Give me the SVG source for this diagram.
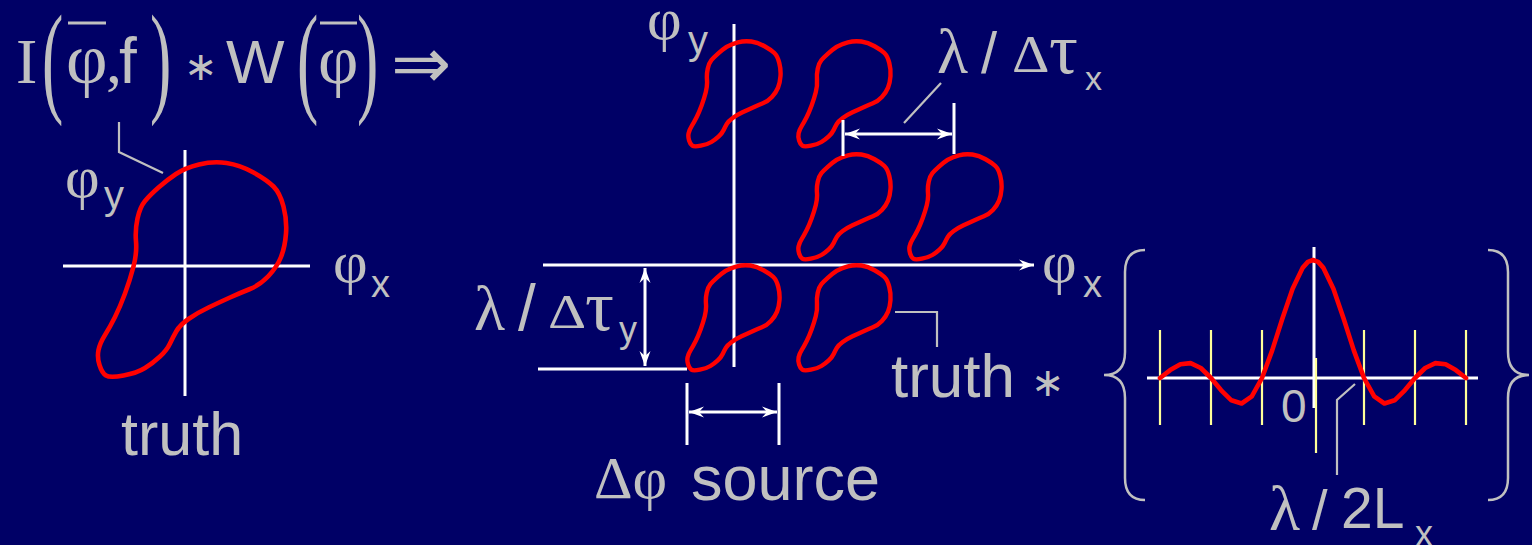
<svg xmlns="http://www.w3.org/2000/svg" xmlns:xlink="http://www.w3.org/1999/xlink" width="1532" height="545" viewBox="0 0 1532 545">
<style>
.serif{font-family:"Liberation Serif","Times New Roman",serif;fill:#C0C0C0}
.sans{font-family:"Liberation Sans",Arial,sans-serif;fill:#C0C0C0}
.sym{font-family:"DejaVu Sans",sans-serif;fill:#C0C0C0}
.ax{stroke:#FFFFFF;stroke-width:3;fill:none}
.lead{stroke:#C0C0C0;stroke-width:2.2;fill:none}
.blob{fill:none;stroke:#FF0000;stroke-linejoin:round}
.ytick{stroke:#FFFF99;stroke-width:2.2}
.brace{stroke:#C0C0C0;stroke-width:2.5;fill:none}
</style>
<defs>
<marker id="ah" viewBox="-16 -7 17 14" refX="0" refY="0" markerWidth="17" markerHeight="14" markerUnits="userSpaceOnUse" orient="auto-start-reverse">
<path d="M0,0 L-15,-5.5 L-10,0 L-15,5.5 Z" fill="#FFFFFF"/>
</marker>
<path id="blob" d="M-9,6 Q0,0 14,-3.5 Q28,-7 41.5,-5 Q55,-3 68.5,4.5 Q82,12 88.5,18.5 Q95,25 98.5,38.5 Q102,52 101,65.5 Q100,79 96,89 Q92,99 83.5,108 Q75,117 65,121 Q55,125 45,129.5 Q35,134 23.5,139.5 Q12,145 3.5,151 Q-5,157 -8.5,163 Q-12,169 -15,175.5 Q-18,182 -25,188.5 Q-32,195 -40,200 Q-48,205 -61.5,207.5 Q-75,210 -79,207.5 Q-83,205 -85.5,197 Q-88,189 -86.5,182 Q-85,175 -80,167 Q-75,159 -70,149 Q-65,139 -60,125.5 Q-55,112 -51.5,98.5 Q-48,85 -49,73.5 Q-50,62 -47.5,50.5 Q-45,39 -40,33 Q-35,27 -26.5,19.5 Q-18,12 -9,6 Z"/>
</defs>
<rect x="0" y="0" width="1532" height="545" fill="#000066"/>

<g id="formula">
<text class="serif" x="16" y="83" font-size="64">I</text>
<text class="serif" font-size="64" transform="translate(42,100) scale(1,1.92)">(</text>
<text class="serif" x="66" y="83" font-size="72">φ</text>
<line x1="68" y1="23" x2="106" y2="23" stroke="#C0C0C0" stroke-width="3"/>
<text class="serif" x="106" y="83" font-size="64">,</text>
<text class="sans" x="119" y="83" font-size="64">f</text>
<text class="serif" font-size="64" transform="translate(150,100) scale(1,1.92)">)</text>
<text class="sym" x="184" y="80" font-size="40">∗</text>
<text class="sans" x="226" y="83" font-size="62">W</text>
<text class="serif" font-size="64" transform="translate(297,100) scale(1,1.92)">(</text>
<text class="serif" x="318" y="83" font-size="70">φ</text>
<line x1="320" y1="23" x2="357" y2="23" stroke="#C0C0C0" stroke-width="3"/>
<text class="serif" font-size="64" transform="translate(357,100) scale(1,1.92)">)</text>
<text class="sym" x="391" y="88" font-size="72">⇒</text>
</g>

<g id="truth-plot">
<line class="ax" x1="63" y1="266" x2="310" y2="266"/>
<line class="ax" x1="185" y1="150" x2="185" y2="396"/>
<use href="#blob" class="blob" stroke-width="4.6" transform="translate(185,168)"/>
<text class="serif" x="65" y="197" font-size="60">φ</text>
<text class="sans" x="104" y="209" font-size="40">y</text>
<text class="serif" x="333" y="282" font-size="60">φ</text>
<text class="sans" x="371" y="297" font-size="38">x</text>
<text class="sans" x="121" y="455" font-size="61">truth</text>
</g>

<g id="sampled-plot">
<line class="ax" x1="734" y1="24" x2="734" y2="367"/>
<line class="ax" x1="543" y1="265" x2="1034" y2="265" marker-end="url(#ah)"/>
<line class="ax" x1="538" y1="369" x2="687" y2="369"/>
<g class="blob" stroke-width="9">
<use href="#blob" transform="translate(731,44) scale(0.49)"/>
<use href="#blob" transform="translate(841,44) scale(0.49)"/>
<use href="#blob" transform="translate(841,157) scale(0.49)"/>
<use href="#blob" transform="translate(952,157) scale(0.49)"/>
<use href="#blob" transform="translate(730,268) scale(0.49)"/>
<use href="#blob" transform="translate(841,268) scale(0.49)"/>
</g>
<text class="serif" x="647" y="39" font-size="60">φ</text>
<text class="sans" x="688" y="54" font-size="40">y</text>
<text class="serif" x="1042" y="282" font-size="60">φ</text>
<text class="sans" x="1083" y="297" font-size="38">x</text>
<text class="serif" x="937" y="73" font-size="64">λ</text>
<text class="sans" x="981" y="73" font-size="58">/</text>
<text class="serif" font-size="54" transform="translate(1012,72) scale(1.08,0.98)">Δ</text>
<text class="serif" x="1049" y="73" font-size="72">τ</text>
<text class="sans" x="1085" y="90" font-size="34">x</text>
<text class="serif" x="474" y="330" font-size="64">λ</text>
<text class="sans" x="518" y="330" font-size="64">/</text>
<text class="serif" font-size="54" transform="translate(548,328) scale(1.1,0.9)">Δ</text>
<text class="serif" x="585" y="330" font-size="72">τ</text>
<text class="sans" x="619" y="342" font-size="36">y</text>
<text class="sans" x="891" y="397" font-size="62">truth</text>
<text class="sym" x="1031" y="396" font-size="40">∗</text>
<text class="serif" x="594" y="498" font-size="60">Δφ</text>
<text class="sans" x="691" y="500" font-size="63">source</text>
</g>

<g id="psf-plot">
<path class="brace" d="M1145,250 Q1125,250 1125,272 L1125,352 Q1125,375 1104,375 Q1125,375 1125,398 L1125,478 Q1125,500 1145,500"/>
<path class="brace" d="M1488,250 Q1508,250 1508,272 L1508,352 Q1508,375 1529,375 Q1508,375 1508,398 L1508,478 Q1508,500 1488,500"/>
<line class="ax" x1="1147" y1="378" x2="1478" y2="378"/>
<line class="ax" x1="1314" y1="247" x2="1314" y2="408"/>
<g class="ytick">
<line x1="1160" y1="330" x2="1160" y2="425"/>
<line x1="1211" y1="330" x2="1211" y2="425"/>
<line x1="1262" y1="330" x2="1262" y2="425"/>
<line x1="1316" y1="358" x2="1316" y2="453"/>
<line x1="1364" y1="330" x2="1364" y2="425"/>
<line x1="1415" y1="330" x2="1415" y2="425"/>
<line x1="1466" y1="330" x2="1466" y2="425"/>
</g>
<polyline fill="none" stroke="#FF0000" stroke-width="4.6" stroke-linejoin="round" stroke-linecap="round" points="1160,378 1170.2,370.1 1180.4,364.3 1190.6,363.1 1200.8,368 1211,378 1221.2,390.3 1231.4,400.3 1241.6,403.5 1251.8,396.4 1262,378 1272.2,350.4 1282.4,318.5 1292.6,288.7 1302.8,267.6 1307.9,261.9 1313,260 1318.1,261.9 1323.2,267.6 1333.4,288.7 1343.6,318.5 1353.8,350.4 1364,378 1374.2,396.4 1384.4,403.5 1394.6,400.3 1404.8,390.3 1415,378 1425.2,368 1435.4,363.1 1445.6,364.3 1455.8,370.1 1466,378"/>
<text class="sans" x="1281" y="422" font-size="46">0</text>
<text class="serif" x="1269" y="530" font-size="64">λ</text>
<text class="sans" x="1312" y="529" font-size="56">/</text>
<text class="sans" x="1341" y="528" font-size="57">2L</text>
<text class="sans" x="1415" y="546" font-size="36">x</text>
</g>

<g id="connectors">
<polyline class="lead" points="119,122 119,152 163,173"/>
<line class="lead" x1="941" y1="83" x2="904" y2="123"/>
<polyline class="lead" points="895,312 937,312 937,347"/>
<polyline class="lead" points="1355,384 1337,400 1337,475"/>
<line class="ax" x1="843" y1="120" x2="843" y2="156"/>
<line class="ax" x1="954" y1="103" x2="954" y2="154"/>
<line class="ax" x1="845" y1="134" x2="952" y2="134" marker-start="url(#ah)" marker-end="url(#ah)"/>
<line class="ax" x1="645" y1="268" x2="645" y2="366" marker-start="url(#ah)" marker-end="url(#ah)"/>
<line class="ax" x1="687" y1="383" x2="687" y2="445"/>
<line class="ax" x1="779" y1="383" x2="779" y2="445"/>
<line class="ax" x1="689" y1="412" x2="777" y2="412" marker-start="url(#ah)" marker-end="url(#ah)"/>
</g>
</svg>
